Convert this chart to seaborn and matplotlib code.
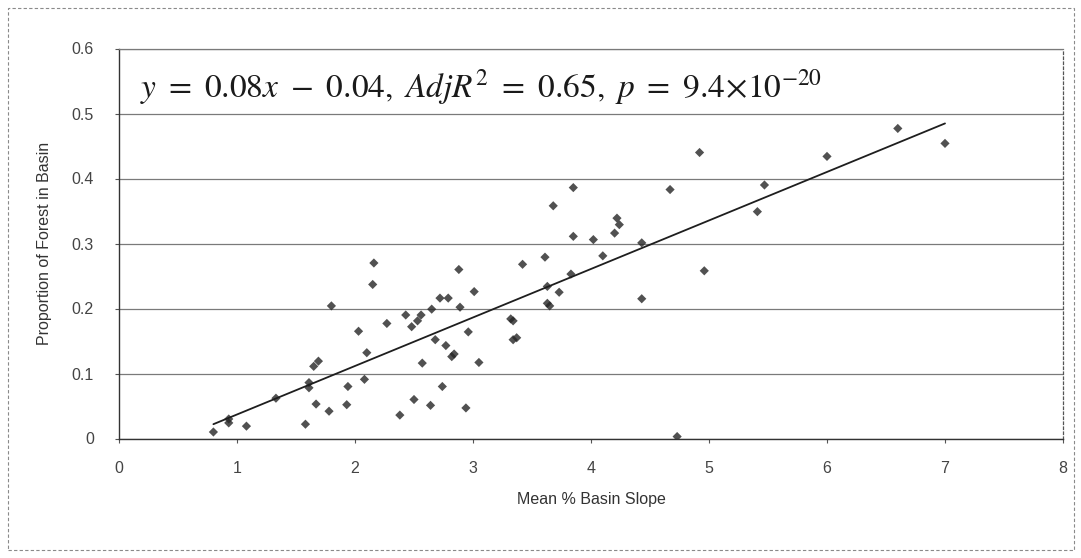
import matplotlib
matplotlib.use("Agg")
import matplotlib.pyplot as plt
import seaborn as sns
import pandas as pd
from matplotlib.patches import Rectangle

# ---- data ----
slope_x = [0.80, 0.93, 0.93, 1.08, 1.33, 1.58, 1.61, 1.61, 1.65, 1.69,
           1.67, 1.78, 1.80, 1.93, 1.94, 2.03, 2.08, 2.10, 2.15, 2.16,
           2.27, 2.38, 2.43, 2.48, 2.53, 2.56, 2.50, 2.57, 2.64, 2.65,
           2.68, 2.72, 2.74, 2.77, 2.79, 2.82, 2.84, 2.88, 2.89, 2.94,
           2.96, 3.01, 3.05, 3.32, 3.34, 3.34, 3.37, 3.42, 3.61, 3.63,
           3.63, 3.65, 3.68, 3.73, 3.83, 3.85, 3.85, 4.02, 4.10, 4.20,
           4.22, 4.24, 4.43, 4.43, 4.67, 4.73, 4.92, 4.96, 5.41, 5.47,
           6.00, 6.60, 7.00]
forest_y = [0.010, 0.024, 0.030, 0.019, 0.062, 0.022, 0.086, 0.078, 0.111, 0.119,
            0.053, 0.042, 0.204, 0.052, 0.080, 0.165, 0.091, 0.132, 0.237, 0.270,
            0.177, 0.036, 0.190, 0.172, 0.181, 0.190, 0.060, 0.116, 0.051, 0.199,
            0.152, 0.216, 0.080, 0.143, 0.216, 0.126, 0.130, 0.260, 0.202, 0.047,
            0.164, 0.226, 0.117, 0.184, 0.181, 0.152, 0.155, 0.268, 0.279, 0.234,
            0.208, 0.204, 0.358, 0.225, 0.253, 0.311, 0.386, 0.306, 0.281, 0.316,
            0.339, 0.329, 0.301, 0.215, 0.383, 0.003, 0.440, 0.258, 0.349, 0.390,
            0.434, 0.477, 0.454]

x_ticks = [0, 1, 2, 3, 4, 5, 6, 7, 8]
y_ticks = [0, 0.1, 0.2, 0.3, 0.4, 0.5, 0.6]
y_tick_labels = ["0", "0.1", "0.2", "0.3", "0.4", "0.5", "0.6"]
x_label = "Mean % Basin Slope"
y_label = "Proportion of Forest in Basin"
equation = (r"$y\ =\ 0.08x\ -\ 0.04,\ AdjR^{2}\ =\ 0.65,\ "
            r"p\ =\ 9.4\!\times\!10^{-20}$")

sns.set_theme(style="white")
plt.rcParams["font.family"] = ["Liberation Sans", "DejaVu Sans"]
plt.rcParams["mathtext.fontset"] = "stix"

W, H = 1081, 558
fig = plt.figure(figsize=(W / 100, H / 100), dpi=100)
fig.patch.set_facecolor("white")
left, right, top, bottom = 119, 1063, 48.5, 438.5
ax = fig.add_axes([left / W, 1 - bottom / H, (right - left) / W, (bottom - top) / H])

df = pd.DataFrame({"slope": slope_x, "forest": forest_y})
sns.regplot(data=df, x="slope", y="forest", ax=ax, ci=None, truncate=True,
            marker="D",
            scatter_kws=dict(s=22, color="#262626", edgecolors="none", zorder=3),
            line_kws=dict(color="#1e1e1e", lw=1.3, zorder=4))

ax.set_xlim(0, 8)
ax.set_ylim(0, 0.6)
ax.set_xticks(x_ticks)
ax.set_xticklabels([str(t) for t in x_ticks])
ax.set_yticks(y_ticks)
ax.set_yticklabels(y_tick_labels)
ax.yaxis.grid(True, color="#7a7a7a", lw=0.9)
ax.xaxis.grid(False)
ax.set_axisbelow(True)

for s in ["left", "bottom"]:
    ax.spines[s].set_color("#333333")
    ax.spines[s].set_linewidth(1.0)
ax.spines["top"].set_color("#7a7a7a")
ax.spines["top"].set_linewidth(0.9)
ax.spines["right"].set_color("#555555")
ax.spines["right"].set_linestyle((0, (2, 2)))
ax.spines["right"].set_linewidth(0.9)

ax.tick_params(axis="x", bottom=True, length=3, width=0.8, color="#555555",
               pad=13, labelsize=11.5, labelcolor="#444444")
ax.tick_params(axis="y", left=True, length=3, width=0.8, color="#555555",
               pad=15, labelsize=11.5, labelcolor="#444444")

ax.set_xlabel(x_label, fontsize=11.5, color="#333333", labelpad=12)
ax.set_ylabel(y_label, fontsize=11.5, color="#333333", labelpad=14)

ax.text(0.175, 0.54, equation, fontsize=24, color="#1a1a1a",
        ha="left", va="center", transform=ax.transData)

fig.patches.append(Rectangle((8 / W, 1 - 550 / H), (1074 - 8) / W, (550 - 8) / H,
                             transform=fig.transFigure, fill=False,
                             edgecolor="#8a8a8a", lw=0.8, linestyle=(0, (3, 2))))

fig.savefig("out.png", dpi=100, facecolor="white")
